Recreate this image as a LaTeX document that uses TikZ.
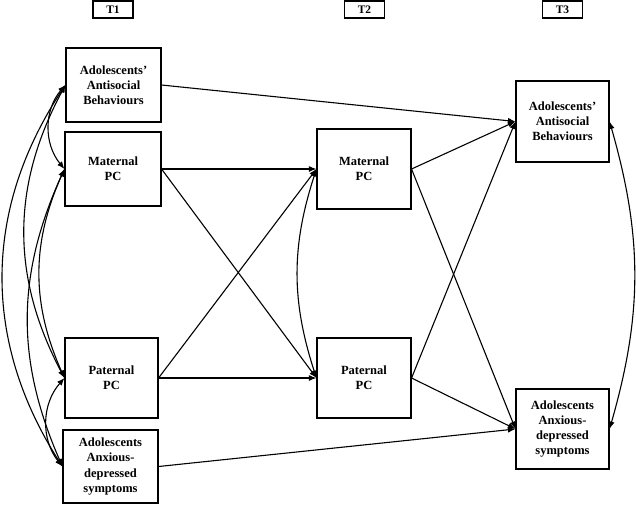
\documentclass[tikz,border=0pt]{standalone}
\usepackage{fontspec}
\setmainfont{Liberation Serif}
\usetikzlibrary{arrows.meta}

\begin{document}
\begin{tikzpicture}[x=1pt,y=-1pt,line width=1.1pt,
  var/.style={draw,align=center,inner sep=0pt,minimum width=94pt,minimum height=80pt,
    font=\fontsize{12.5}{15}\selectfont\bfseries},
  wave/.style={draw,inner sep=0pt,minimum width=40pt,minimum height=17pt,
    font=\fontsize{11.5}{13}\selectfont\bfseries},
  effect/.style={-{Latex[length=7.5pt,width=6pt]}},
  cov/.style={{Latex[length=7.5pt,width=6pt]}-{Latex[length=7.5pt,width=6pt]}}]
  \useasboundingbox (0,0) rectangle (636,504);

  % Waves
  \node[wave] (t1) at (113,9.5) {T1};
  \node[wave] (t2) at (364.5,9.5) {T2};
  \node[wave] (t3) at (562.5,9.5) {T3};

  % T1 variables
  \node[var,minimum width=95pt,minimum height=74pt] (asb1) at (113.5,85) {Adolescents'\\Antisocial\\Behaviours};
  \node[var,minimum width=96pt,minimum height=74pt] (mpc1) at (113,169) {Maternal\\PC};
  \node[var,minimum width=93pt] (ppc1) at (111.5,378) {Paternal\\PC};
  \node[var,minimum width=95pt,minimum height=73pt] (aad1) at (110.5,466.5) {Adolescents\\Anxious-\\depressed\\symptoms};

  % T2 variables
  \node[var] (mpc2) at (364,169) {Maternal\\PC};
  \node[var] (ppc2) at (364,378) {Paternal\\PC};

  % T3 variables
  \node[var,minimum width=93pt,minimum height=81pt] (asb3) at (562.5,121.5) {Adolescents'\\Antisocial\\Behaviours};
  \node[var,minimum width=93pt] (aad3) at (562.5,429) {Adolescents\\Anxious-\\depressed\\symptoms};

  % Paths T1 -> T2 -> T3
  \draw[effect] (asb1.east) -- (asb3.west);
  \draw[effect] (aad1.east) -- (aad3.west);
  \draw[effect] (mpc1.east) -- (mpc2.west);
  \draw[effect] (mpc1.east) -- (ppc2.west);
  \draw[effect] (ppc1.east) -- (ppc2.west);
  \draw[effect] (ppc1.east) -- (mpc2.west);
  \draw[effect] (mpc2.east) -- (asb3.west);
  \draw[effect] (mpc2.east) -- (aad3.west);
  \draw[effect] (ppc2.east) -- (asb3.west);
  \draw[effect] (ppc2.east) -- (aad3.west);

  % Covariances
  \draw[cov] (asb1.west) to[bend right=40] (mpc1.west);
  \draw[cov] (asb1.west) to[bend right=28] (ppc1.west);
  \draw[cov] (asb1.west) to[bend right=33] (aad1.west);
  \draw[cov] (mpc1.west) to[bend right=24] (ppc1.west);
  \draw[cov] (mpc1.west) to[bend right=24] (aad1.west);
  \draw[cov] (ppc1.west) to[bend right=40] (aad1.west);
  \draw[cov] (mpc2.west) to[bend right=18] (ppc2.west);
  \draw[cov] (asb3.east) to[bend left=16] (aad3.east);
\end{tikzpicture}
\end{document}
